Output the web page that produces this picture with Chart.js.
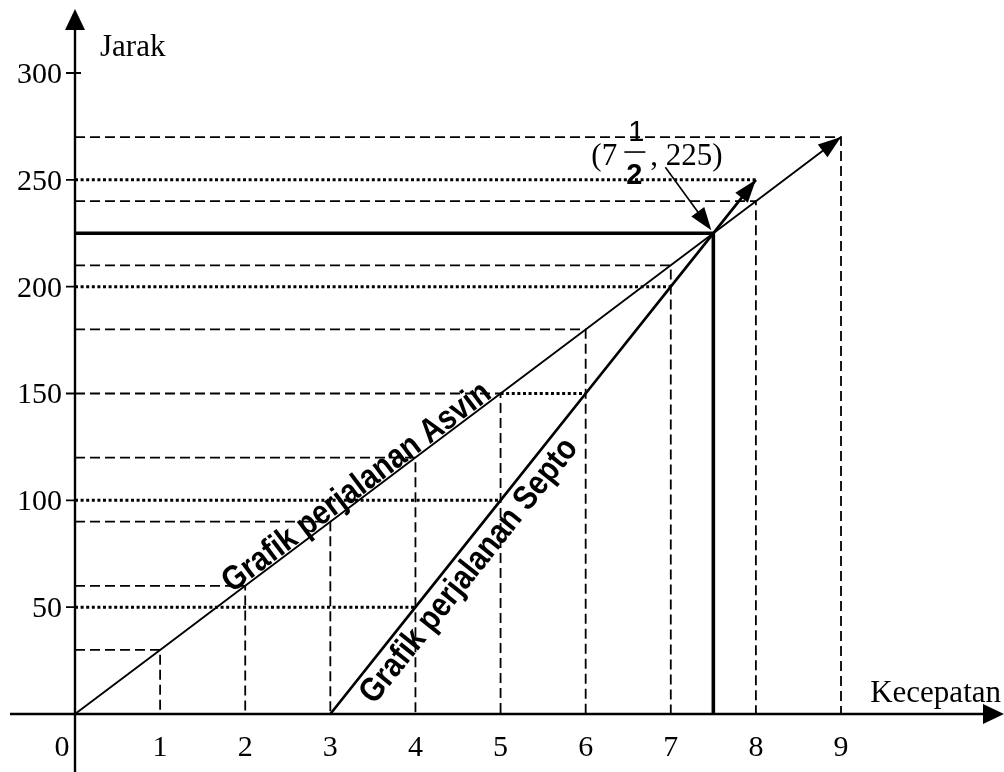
<!DOCTYPE html>
<html>
<head>
<meta charset="utf-8">
<script src="https://cdn.jsdelivr.net/npm/chart.js@4"></script>
<style>
  html, body { margin: 0; padding: 0; background: #fff; }
  #wrap { width: 1004px; height: 772px; }
</style>
</head>
<body>
<div id="wrap"><canvas id="grafik" width="1004" height="772"></canvas></div>
<script>
// values
const asvinX = [0, 1, 2, 3, 4, 5, 6, 7, 8, 9];
const asvinY = [0, 30, 60, 90, 120, 150, 180, 210, 240, 270];
const septoX = [3, 4, 5, 6, 7, 8];
const septoY = [0, 50, 100, 150, 200, 250];
const meetX = [7.5];
const meetY = [225];
const xTickValues = [0, 1, 2, 3, 4, 5, 6, 7, 8, 9];
const xTickLabels = ["0", "1", "2", "3", "4", "5", "6", "7", "8", "9"];
const yTickValues = [50, 100, 150, 200, 250, 300];
const yTickLabels = ["50", "100", "150", "200", "250", "300"];

const serif = '"Liberation Serif", "Times New Roman", serif';
const sans = '"Liberation Sans", Arial, sans-serif';

const pts = (xs, ys) => xs.map((x, i) => ({ x: x, y: ys[i] }));

function lineSet(data, width, dash, order) {
  return {
    data: data,
    borderColor: "#000",
    borderWidth: width,
    borderDash: dash,
    pointRadius: 0,
    tension: 0,
    fill: false,
    order: order,
  };
}

const datasets = [];

// main lines
datasets.push(lineSet(pts(asvinX, asvinY), 1.9, [], 0));
datasets.push(lineSet(pts(septoX, septoY), 2.7, [], 0));
datasets.push(
  lineSet(
    [
      { x: 0, y: meetY[0] },
      { x: meetX[0], y: meetY[0] },
      { x: meetX[0], y: 0 },
    ],
    3.6,
    [],
    0
  )
);

// dashed guides for Asvin
asvinX.forEach((x, i) => {
  if (x === 0) return;
  const y = asvinY[i];
  datasets.push(
    lineSet(
      [
        { x: 0, y: y },
        { x: x, y: y },
        { x: x, y: 0 },
      ],
      1.8,
      [10, 5],
      2
    )
  );
});

// dotted guides for Septo
septoX.forEach((x, i) => {
  const y = septoY[i];
  if (y === 0) return;
  const same = asvinY.indexOf(y);
  const start = same >= 0 ? asvinX[same] : 0;
  datasets.push(
    lineSet(
      [
        { x: start, y: y },
        { x: x, y: y },
      ],
      3,
      [3, 2.6],
      1
    )
  );
});

function arrowHead(ctx, fx, fy, tx, ty, len, half) {
  const a = Math.atan2(ty - fy, tx - fx);
  ctx.save();
  ctx.translate(tx, ty);
  ctx.rotate(a);
  ctx.beginPath();
  ctx.moveTo(0, 0);
  ctx.lineTo(-len, -half);
  ctx.lineTo(-len, half);
  ctx.closePath();
  ctx.fillStyle = "#000";
  ctx.fill();
  ctx.restore();
}

// draws a caption along a line, a bit narrower than the plain font
function caption(ctx, text, x, y, angle, dy) {
  ctx.save();
  ctx.translate(x, y);
  ctx.rotate(angle);
  ctx.scale(0.86, 1);
  ctx.font = "bold 34px " + sans;
  ctx.textBaseline = "alphabetic";
  ctx.textAlign = "left";
  ctx.fillText(text, 0, dy);
  ctx.restore();
}

// texts under the lines
const labelsPlugin = {
  id: "labels",
  beforeDatasetsDraw(chart) {
    const ctx = chart.ctx;
    const xs = chart.scales.x;
    const ys = chart.scales.y;
    const px = (v) => xs.getPixelForValue(v);
    const py = (v) => ys.getPixelForValue(v);
    ctx.save();
    ctx.fillStyle = "#000";

    // rotated caption along Asvin line
    const na = asvinX.length - 1;
    const angA = Math.atan2(
      py(asvinY[na]) - py(asvinY[0]),
      px(asvinX[na]) - px(asvinX[0])
    );
    const sA = 1.86;
    caption(ctx, "Grafik perjalanan Asvin", px(sA), py(sA * 30), angA, -2);

    // rotated caption along Septo line
    const ns = septoX.length - 1;
    const angS = Math.atan2(
      py(septoY[ns]) - py(septoY[0]),
      px(septoX[ns]) - px(septoX[0])
    );
    const sS = 3.25;
    caption(ctx, "Grafik perjalanan Septo", px(sS), py((sS - 3) * 50), angS, 29);

    // axis labels
    ctx.font = "31px " + serif;
    ctx.textBaseline = "alphabetic";
    ctx.textAlign = "left";
    ctx.fillText("Jarak", px(0) + 25, 56);
    ctx.textAlign = "right";
    ctx.fillText("Kecepatan", 1001, py(0) - 12);

    // tick labels
    ctx.font = "30px " + serif;
    ctx.textAlign = "center";
    xTickValues.forEach((v, i) => {
      const off = v === 0 ? -13 : 0;
      ctx.fillText(xTickLabels[i], px(v) + off, py(0) + 42);
    });
    ctx.textAlign = "right";
    ctx.textBaseline = "middle";
    yTickValues.forEach((v, i) => {
      ctx.fillText(yTickLabels[i], px(0) - 13, py(v) + 2);
    });

    // point annotation (7 1/2, 225)
    const mx = px(meetX[0]), my = py(meetY[0]);
    ctx.textBaseline = "alphabetic";
    ctx.textAlign = "left";
    ctx.font = "31px " + serif;
    ctx.fillText("(7", mx - 122, my - 68);
    ctx.fillText(", 225)", mx - 63, my - 68);
    ctx.font = "29px " + sans;
    ctx.textAlign = "center";
    ctx.fillText("1", mx - 77, my - 92);
    ctx.font = "bold 29px " + sans;
    ctx.fillText("2", mx - 79, my - 49);
    ctx.fillRect(mx - 89, my - 82, 21, 1.6);
    ctx.restore();
  },
  afterDatasetsDraw(chart) {
    const ctx = chart.ctx;
    const xs = chart.scales.x;
    const ys = chart.scales.y;
    const px = (v) => xs.getPixelForValue(v);
    const py = (v) => ys.getPixelForValue(v);
    ctx.save();
    ctx.strokeStyle = "#000";
    ctx.fillStyle = "#000";

    // axes
    const ox = px(0), oy = py(0);
    ctx.lineWidth = 2.4;
    ctx.beginPath();
    ctx.moveTo(10, oy);
    ctx.lineTo(990, oy);
    ctx.moveTo(ox, 772);
    ctx.lineTo(ox, 20);
    ctx.stroke();
    arrowHead(ctx, ox, 100, ox, 9, 21, 10);
    arrowHead(ctx, 900, oy, 1004, oy, 21, 10);

    // y ticks
    ctx.lineWidth = 1.8;
    ctx.beginPath();
    yTickValues.forEach((v) => {
      ctx.moveTo(ox - 9, py(v));
      ctx.lineTo(ox + (v === 300 ? 6 : 0), py(v));
    });
    ctx.stroke();

    // arrow heads of the two trips
    const na = asvinX.length - 1;
    arrowHead(ctx, px(asvinX[na - 1]), py(asvinY[na - 1]), px(asvinX[na]), py(asvinY[na]), 23, 8);
    const ns = septoX.length - 1;
    arrowHead(ctx, px(septoX[ns - 1]), py(septoY[ns - 1]), px(septoX[ns]), py(septoY[ns]), 23, 8);

    // pointer to the meeting point
    const mx = px(meetX[0]), my = py(meetY[0]);
    ctx.lineWidth = 1.6;
    ctx.beginPath();
    ctx.moveTo(mx - 48, my - 66);
    ctx.lineTo(mx - 8, my - 11);
    ctx.stroke();
    arrowHead(ctx, mx - 48, my - 66, mx - 2, my - 3, 23, 8);
    ctx.restore();
  },
};

new Chart(document.getElementById("grafik").getContext("2d"), {
  type: "line",
  data: { datasets: datasets },
  options: {
    responsive: false,
    animation: false,
    layout: { padding: 0 },
    plugins: {
      legend: { display: false },
      tooltip: { enabled: false },
    },
    scales: {
      x: { type: "linear", min: -0.8812, max: 10.915, display: false },
      y: { type: "linear", min: -27.14, max: 334.16, display: false },
    },
  },
  plugins: [labelsPlugin],
});
</script>
</body>
</html>
